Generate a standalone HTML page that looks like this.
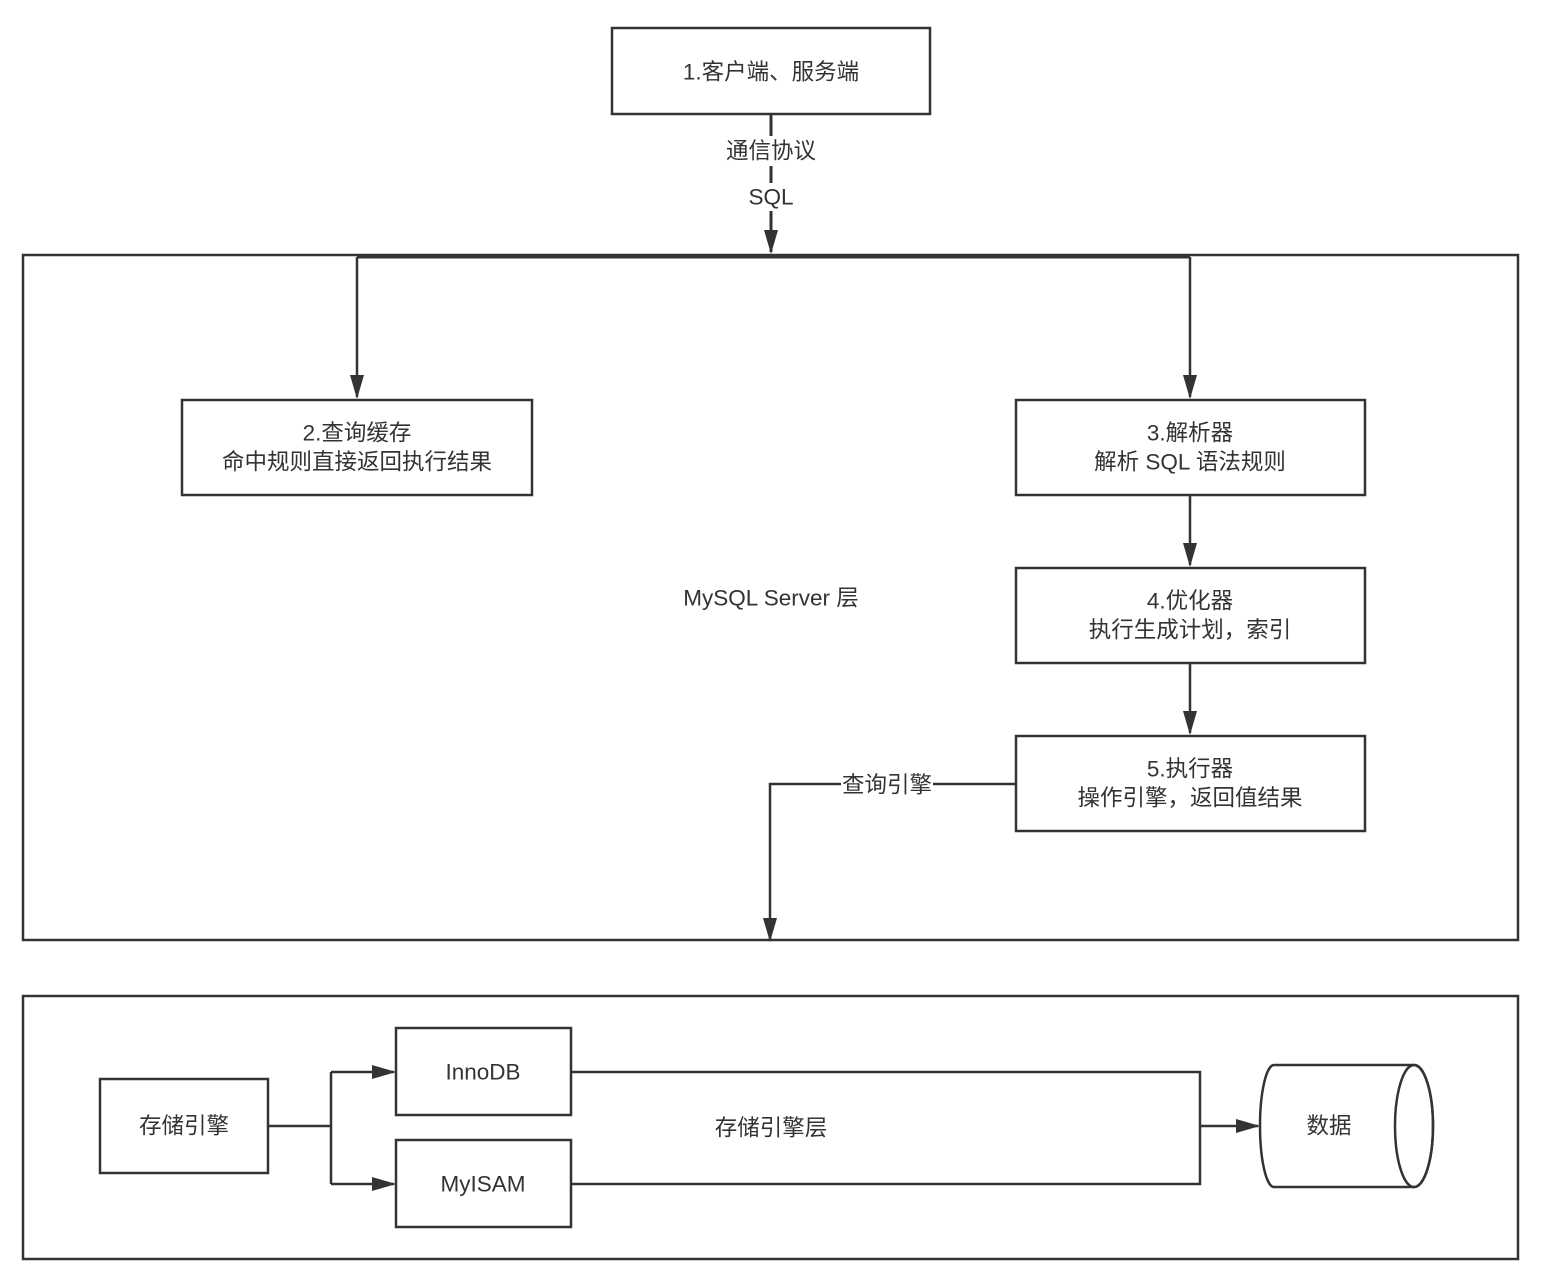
<!DOCTYPE html>
<html><head><meta charset="utf-8"><style>
html,body{margin:0;padding:0;background:#fff;}
svg{display:block;}
text{font-family:"Liberation Sans","Noto Sans CJK SC",sans-serif;font-size:22.5px;fill:#333;text-anchor:middle;dominant-baseline:central;}
</style></head><body>
<svg width="1552" height="1275" viewBox="0 0 1552 1275" xmlns="http://www.w3.org/2000/svg">
<defs><marker id="b" markerWidth="24" markerHeight="14" refX="22" refY="7" orient="auto" markerUnits="userSpaceOnUse"><path d="M0,0 L24,7 L0,14 Z" fill="#333"/></marker></defs>
<g fill="none" stroke="#333" stroke-width="2.5">
<rect x="612" y="28" width="318" height="86"/>
<rect x="23" y="255" width="1495" height="685"/>
<rect x="182" y="400" width="350" height="95"/>
<rect x="1016" y="400" width="349" height="95"/>
<rect x="1016" y="568" width="349" height="95"/>
<rect x="1016" y="736" width="349" height="95"/>
<rect x="23" y="996" width="1495" height="263"/>
<rect x="100" y="1079" width="168" height="94"/>
<rect x="396" y="1028" width="175" height="87"/>
<rect x="396" y="1140" width="175" height="87"/>
<path d="M1274,1065 L1414,1065 A19,61 0 0 1 1414,1187 L1274,1187 A14,61 0 0 1 1274,1065 Z"/>
<ellipse cx="1414" cy="1126" rx="19" ry="61"/>
<line x1="771" y1="114" x2="771" y2="252" stroke-width="3" marker-end="url(#b)"/>
<path d="M357,257 L1190,257" stroke-width="3"/>
<line x1="357" y1="257" x2="357" y2="397" marker-end="url(#b)"/>
<line x1="1190" y1="257" x2="1190" y2="397" marker-end="url(#b)"/>
<line x1="1190" y1="495" x2="1190" y2="565" marker-end="url(#b)"/>
<line x1="1190" y1="663" x2="1190" y2="733" marker-end="url(#b)"/>
<path d="M1016,784 L770,784 L770,940" marker-end="url(#b)"/>
<path d="M268,1126 L331,1126"/>
<path d="M331,1072 L331,1184"/>
<line x1="331" y1="1072" x2="394" y2="1072" marker-end="url(#b)"/>
<line x1="331" y1="1184" x2="394" y2="1184" marker-end="url(#b)"/>
<path d="M571,1072 L1200,1072 L1200,1184 L571,1184"/>
<line x1="1200" y1="1126" x2="1258" y2="1126" marker-end="url(#b)"/>
</g>
<rect x="724" y="136" width="96" height="30" fill="#fff"/>
<rect x="748" y="183" width="48" height="28" fill="#fff"/>
<rect x="841" y="772" width="92" height="26" fill="#fff"/>
<text x="771" y="72">1.客户端、服务端</text>
<text x="771" y="151">通信协议</text>
<text x="771" y="197">SQL</text>
<text x="357" y="433">2.查询缓存</text>
<text x="357" y="462">命中规则直接返回执行结果</text>
<text x="1190" y="433">3.解析器</text>
<text x="1190" y="462">解析 SQL 语法规则</text>
<text x="1190" y="601">4.优化器</text>
<text x="1190" y="630">执行生成计划，索引</text>
<text x="1190" y="769">5.执行器</text>
<text x="1190" y="798">操作引擎，返回值结果</text>
<text x="771" y="598">MySQL Server 层</text>
<text x="887" y="785">查询引擎</text>
<text x="184" y="1126">存储引擎</text>
<text x="483" y="1072">InnoDB</text>
<text x="483" y="1184">MyISAM</text>
<text x="771" y="1128">存储引擎层</text>
<text x="1329" y="1126">数据</text>
</svg>
</body></html>
